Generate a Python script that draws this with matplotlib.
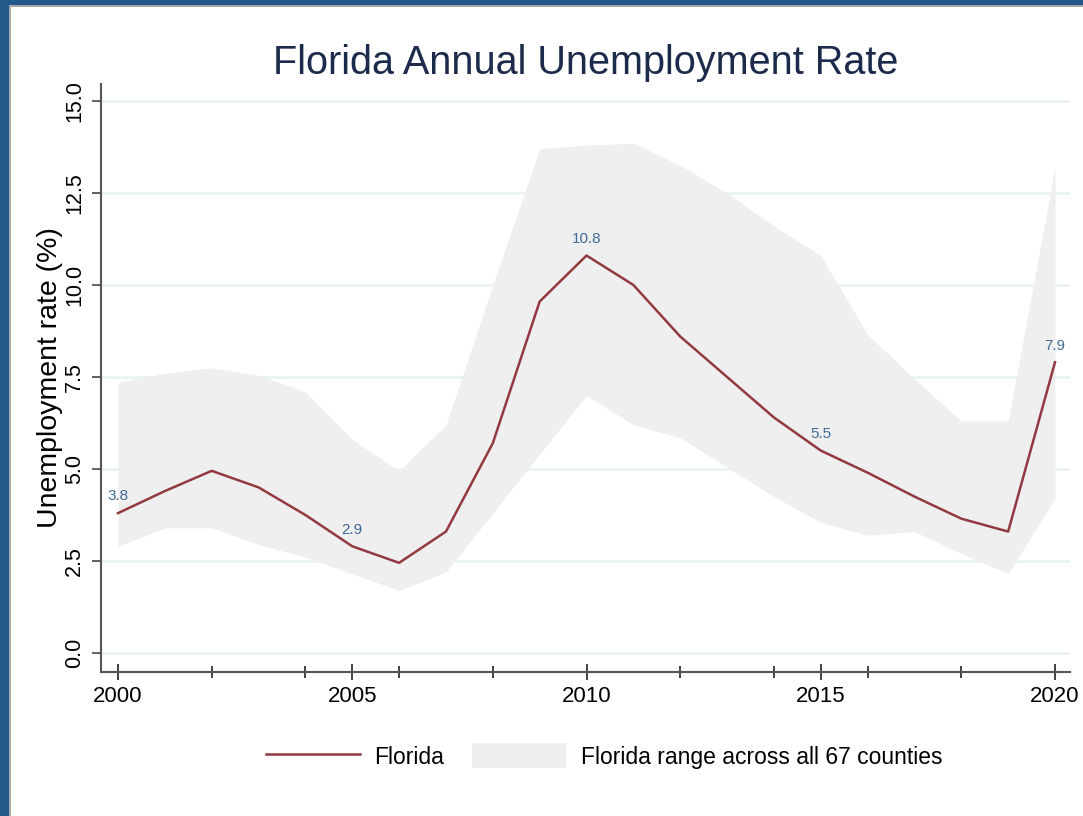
import matplotlib
matplotlib.use("Agg")
import matplotlib.pyplot as plt
from matplotlib.patches import Rectangle
from matplotlib.lines import Line2D
from matplotlib.patches import Patch
from matplotlib.ticker import FixedLocator

plt.rcParams['font.family'] = ['Liberation Sans', 'DejaVu Sans']

years = list(range(2000, 2021))
florida = [3.8, 4.4, 4.95, 4.5, 3.75, 2.9, 2.45, 3.3, 5.7, 9.55, 10.8, 10.0,
           8.6, 7.5, 6.4, 5.5, 4.9, 4.25, 3.65, 3.3, 7.9]
county_max = [7.35, 7.6, 7.75, 7.55, 7.1, 5.8, 4.95, 6.2, 10.0, 13.7, 13.8, 13.85,
              13.25, 12.5, 11.6, 10.8, 8.65, 7.45, 6.3, 6.3, 13.2]
county_min = [2.9, 3.4, 3.4, 2.95, 2.6, 2.15, 1.7, 2.2, 3.8, 5.4, 7.0, 6.2,
              5.85, 5.05, 4.25, 3.55, 3.2, 3.3, 2.7, 2.15, 4.2]
label_years = [2000, 2005, 2010, 2015, 2020]
x_major = [2000, 2005, 2010, 2015, 2020]
x_minor = [2002, 2004, 2006, 2008, 2012, 2014, 2016, 2018]
y_ticks = [0, 2.5, 5, 7.5, 10, 12.5, 15]

W, H = 1083, 816
fig = plt.figure(figsize=(W / 100, H / 100), dpi=100)
fig.patch.set_facecolor('#22598a')

# white panel with gray edge
fig.add_artist(Rectangle((9 / W, 0), 1 - 9 / W, 1 - 5 / H, transform=fig.transFigure,
                         facecolor='#a8a8a8', edgecolor='none', zorder=0))
fig.add_artist(Rectangle((11 / W, 0), 1 - 11 / W, 1 - 7 / H, transform=fig.transFigure,
                         facecolor='white', edgecolor='none', zorder=0))

ax = fig.add_axes([101 / W, 1 - 672 / H, (1070 - 101) / W, (672 - 84) / H])
ax.set_facecolor('none')

ax.fill_between(years, county_min, county_max, color='#efefef', linewidth=0, zorder=1)
ax.plot(years, florida, color='#933a40', linewidth=1.8, zorder=3)

for yr in label_years:
    v = florida[years.index(yr)]
    ax.annotate(f"{v:.1f}", (yr, v), xytext=(0, 7), textcoords='offset points',
                ha='center', va='bottom', fontsize=11, color='#3d6a96', zorder=4)

ax.set_xlim(1999.637, 2020.32)
ax.set_ylim(-0.516, 15.46)

ax.set_yticks(y_ticks)
ax.set_yticklabels([f"{t:.1f}" for t in y_ticks], rotation=90, va='center', fontsize=15.5)
ax.xaxis.set_major_locator(FixedLocator(x_major))
ax.xaxis.set_minor_locator(FixedLocator(x_minor))
ax.set_xticklabels([str(x) for x in x_major], fontsize=16)

for y in y_ticks:
    ax.axhline(y, color='#e8f1f3', linewidth=1.8, zorder=0.5)

for s in ['top', 'right']:
    ax.spines[s].set_visible(False)
for s in ['left', 'bottom']:
    ax.spines[s].set_color('#555555')
    ax.spines[s].set_linewidth(1.5)

ax.tick_params(axis='y', direction='out', length=6.5, width=1.3, color='#555555', pad=5)
ax.tick_params(axis='x', which='major', direction='inout', length=12, width=1.3,
               color='#333333', pad=4)
ax.tick_params(axis='x', which='minor', direction='inout', length=8, width=1.3,
               color='#333333')

ax.set_ylabel("Unemployment rate (%)", fontsize=20.5, labelpad=1)
ax.set_title("Florida Annual Unemployment Rate", fontsize=28.5, color='#1c2b4b', pad=7.5)

handles = [Line2D([0], [0], color='#933a40', linewidth=1.8),
           Patch(facecolor='#efefef', edgecolor='none')]
fig.legend(handles, ["Florida", "Florida range across all 67 counties"],
           loc='center', bbox_to_anchor=(604 / W, 1 - 756 / H), ncol=2, frameon=False,
           fontsize=16.5, handlelength=4.1, handleheight=1.3, handletextpad=0.65,
           columnspacing=1.2)

fig.savefig("out.png", dpi=100, facecolor=fig.get_facecolor())
